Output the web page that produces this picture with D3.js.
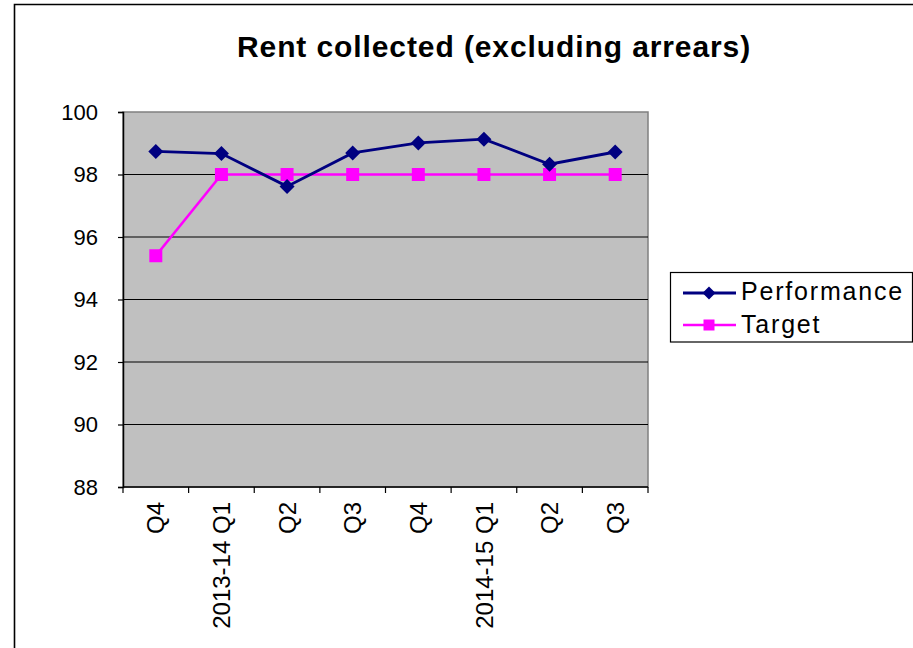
<!DOCTYPE html>
<html>
<head>
<meta charset="utf-8">
<script src="https://cdn.jsdelivr.net/npm/d3@7"></script>
<style>
  html, body { margin: 0; padding: 0; background: #fff; }
  svg { display: block; font-family: Arial, "Liberation Sans", sans-serif; }
</style>
</head>
<body>
<svg id="chart" width="913" height="648"></svg>
<script>
// Quarter labels (financial-year prefix where a year starts)
const categories = ["Q4", "2013-14 Q1", "Q2", "Q3", "Q4", "2014-15 Q1", "Q2", "Q3"];
const performance = [98.74, 98.67, 97.62, 98.69, 99.01, 99.13, 98.33, 98.72];
const target = [95.4, 98, 98, 98, 98, 98, 98, 98];
const yTicks = [88, 90, 92, 94, 96, 98, 100];

const svg = d3.select("#chart");
const plot = { left: 123, right: 648, top: 112, bottom: 487 };
const FONT = "Arial, 'Liberation Sans', sans-serif";

const x = d3.scaleBand().domain(d3.range(categories.length)).range([plot.left, plot.right]);
const y = d3.scaleLinear().domain([88, 100]).range([plot.bottom, plot.top]);
const cx = i => x(i) + x.bandwidth() / 2;

// outer frame (top and left edges)
svg.append("path")
  .attr("d", "M14.5,648 L14.5,4.5 L913,4.5")
  .attr("fill", "none").attr("stroke", "#000").attr("stroke-width", 1.6);

// title
svg.append("text")
  .attr("x", 237).attr("y", 57)
  .attr("font-size", 30).attr("font-weight", "bold")
  .attr("letter-spacing", "0.9px")
  .attr("fill", "#000")
  .text("Rent collected (excluding arrears)");

// plot background
svg.append("rect")
  .attr("x", plot.left).attr("y", plot.top)
  .attr("width", plot.right - plot.left).attr("height", plot.bottom - plot.top)
  .attr("fill", "#c0c0c0").attr("stroke", "#808080").attr("stroke-width", 1.5);

// gridlines
svg.append("g").selectAll("line")
  .data(yTicks.filter(v => v > 88 && v < 100))
  .join("line")
  .attr("x1", plot.left).attr("x2", plot.right)
  .attr("y1", d => y(d)).attr("y2", d => y(d))
  .attr("stroke", "#000").attr("stroke-width", 1);

// y axis
const yAxis = svg.append("g")
  .attr("transform", `translate(${plot.left},0)`)
  .call(d3.axisLeft(y).tickValues(yTicks).tickSize(5).tickPadding(20).tickFormat(d3.format("d")));
yAxis.select(".domain").attr("stroke", "#000").attr("stroke-width", 1.5);
yAxis.selectAll(".tick line").attr("stroke", "#000").attr("stroke-width", 1.2);
yAxis.selectAll(".tick text").attr("font-size", 22).attr("fill", "#000")
  .attr("font-family", FONT);

// x axis with ticks at band boundaries
const xg = svg.append("g").attr("transform", `translate(0,${plot.bottom})`);
xg.append("line").attr("x1", plot.left).attr("x2", plot.right)
  .attr("y1", 0).attr("y2", 0).attr("stroke", "#000").attr("stroke-width", 1.5);
xg.selectAll("line.tk")
  .data(d3.range(categories.length + 1))
  .join("line").attr("class", "tk")
  .attr("x1", i => i < categories.length ? x(i) : plot.right)
  .attr("x2", i => i < categories.length ? x(i) : plot.right)
  .attr("y1", 0).attr("y2", 6)
  .attr("stroke", "#000").attr("stroke-width", 1.2);
xg.selectAll("text")
  .data(categories)
  .join("text")
  .attr("transform", (d, i) => `translate(${cx(i)},15) rotate(-90)`)
  .attr("text-anchor", "end")
  .attr("dy", "0.36em")
  .attr("font-size", 24)
  .attr("font-family", FONT)
  .attr("fill", "#000")
  .text(d => d);

// lines
const line = d3.line().x((d, i) => cx(i)).y(d => y(d));
svg.append("path").datum(target).attr("d", line)
  .attr("fill", "none").attr("stroke", "#ff00ff").attr("stroke-width", 2.6);
svg.append("path").datum(performance).attr("d", line)
  .attr("fill", "none").attr("stroke", "#000080").attr("stroke-width", 2.8);

// markers
const diamond = (px, py, r) => `M${px},${py - r} L${px + r},${py} L${px},${py + r} L${px - r},${py} Z`;
svg.append("g").selectAll("rect")
  .data(target).join("rect")
  .attr("x", (d, i) => cx(i) - 6.5).attr("y", d => y(d) - 6.5)
  .attr("width", 13).attr("height", 13)
  .attr("fill", "#ff00ff");
svg.append("g").selectAll("path")
  .data(performance).join("path")
  .attr("d", (d, i) => diamond(cx(i), y(d), 7.5))
  .attr("fill", "#000080");

// legend
const lg = svg.append("g");
lg.append("rect").attr("x", 670.5).attr("y", 272.5).attr("width", 242).attr("height", 69.5)
  .attr("fill", "#fff").attr("stroke", "#000").attr("stroke-width", 1.2);
const items = [
  { name: "Performance", color: "#000080", w: 2.8, ly: 293, ty: 300, marker: "diamond" },
  { name: "Target", color: "#ff00ff", w: 2.6, ly: 325, ty: 333, marker: "square" }
];
items.forEach(it => {
  lg.append("line").attr("x1", 683).attr("x2", 736).attr("y1", it.ly).attr("y2", it.ly)
    .attr("stroke", it.color).attr("stroke-width", it.w);
  if (it.marker === "diamond") {
    lg.append("path").attr("d", diamond(709, it.ly, 6.5)).attr("fill", it.color);
  } else {
    lg.append("rect").attr("x", 709 - 5.5).attr("y", it.ly - 5.5)
      .attr("width", 11).attr("height", 11).attr("fill", it.color);
  }
  lg.append("text").attr("x", 741).attr("y", it.ty)
    .attr("font-size", 25).attr("letter-spacing", "1.8px").attr("fill", "#000")
    .text(it.name);
});
</script>
</body>
</html>
